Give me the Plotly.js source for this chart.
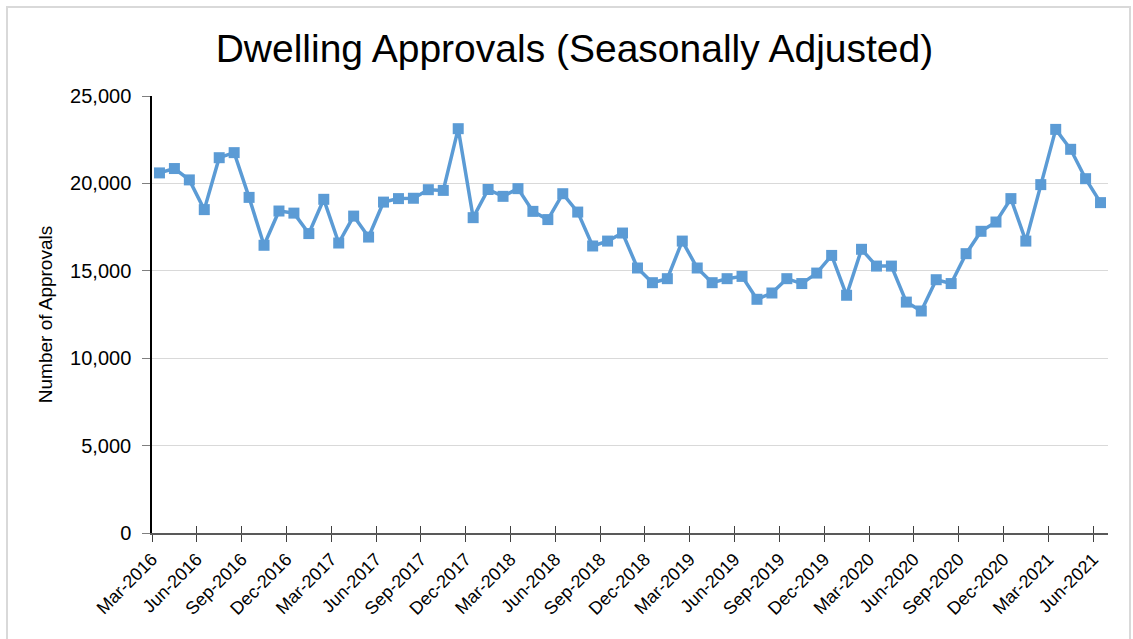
<!DOCTYPE html>
<html>
<head>
<meta charset="utf-8">
<script src="https://cdn.plot.ly/plotly-3.0.1.min.js"></script>
<style>
  html, body { margin: 0; padding: 0; background: #ffffff; }
  #wrap { position: relative; width: 1133px; height: 639px; overflow: hidden; }
  #chart { position: absolute; left: 0; top: 0; width: 1133px; height: 639px; }
  #frame { position: absolute; left: 6px; top: 6px; width: 1121px; height: 660px;
           border: 2px solid #d9d9d9; pointer-events: none; }
</style>
</head>
<body>
<div id="wrap">
  <div id="chart"></div>
  <div id="frame"></div>
</div>
<script>
// Months (categories), Mar-2016 .. Jun-2021
const months = [
  "Mar-2016","Apr-2016","May-2016","Jun-2016","Jul-2016","Aug-2016","Sep-2016","Oct-2016","Nov-2016","Dec-2016",
  "Jan-2017","Feb-2017","Mar-2017","Apr-2017","May-2017","Jun-2017","Jul-2017","Aug-2017","Sep-2017","Oct-2017","Nov-2017","Dec-2017",
  "Jan-2018","Feb-2018","Mar-2018","Apr-2018","May-2018","Jun-2018","Jul-2018","Aug-2018","Sep-2018","Oct-2018","Nov-2018","Dec-2018",
  "Jan-2019","Feb-2019","Mar-2019","Apr-2019","May-2019","Jun-2019","Jul-2019","Aug-2019","Sep-2019","Oct-2019","Nov-2019","Dec-2019",
  "Jan-2020","Feb-2020","Mar-2020","Apr-2020","May-2020","Jun-2020","Jul-2020","Aug-2020","Sep-2020","Oct-2020","Nov-2020","Dec-2020",
  "Jan-2021","Feb-2021","Mar-2021","Apr-2021","May-2021","Jun-2021"
];

// Dwelling approvals, seasonally adjusted
const approvals = [
  20600, 20850, 20200, 18500, 21470, 21760, 19200, 16460, 18420, 18300,
  17130, 19090, 16590, 18130, 16930, 18930, 19130, 19150, 19640, 19600, 23130, 18040,
  19650, 19260, 19700, 18400, 17930, 19410, 18360, 16420, 16700, 17160, 15160, 14320,
  14550, 16700, 15160, 14320, 14550, 14680, 13370, 13730, 14550, 14270, 14870, 15880,
  13600, 16230, 15270, 15270, 13210, 12700, 14490, 14270, 15980, 17260, 17790, 19130,
  16700, 19930, 23090, 21950, 20270, 18900
];

// Tick labels shown every third month
const tickLabels = [
  "Mar-2016","Jun-2016","Sep-2016","Dec-2016","Mar-2017","Jun-2017","Sep-2017","Dec-2017",
  "Mar-2018","Jun-2018","Sep-2018","Dec-2018","Mar-2019","Jun-2019","Sep-2019","Dec-2019",
  "Mar-2020","Jun-2020","Sep-2020","Dec-2020","Mar-2021","Jun-2021"
];

// Category slot positions: each month occupies one slot, point at slot centre,
// tick marks at slot boundaries (Excel-style "between tick marks").
const xPos = months.map((m, i) => i + 0.5);
const tickPos = tickLabels.map(l => months.indexOf(l));

const FONT = '"Liberation Sans", Arial, sans-serif';
const blue = '#5b9bd5';

const trace = {
  x: xPos,
  y: approvals,
  text: months,
  type: 'scatter',
  mode: 'lines+markers',
  line: { color: blue, width: 3.5 },
  marker: { symbol: 'square', size: 11, color: blue },
  hovertemplate: '%{text}: %{y:,}<extra></extra>',
  showlegend: false
};

const layout = {
  width: 1133,
  height: 639,
  paper_bgcolor: '#ffffff',
  plot_bgcolor: '#ffffff',
  margin: { l: 152, r: 25, t: 96, b: 106 },
  font: { family: FONT, color: '#000000', size: 18 },
  title: {
    text: 'Dwelling Approvals (Seasonally Adjusted)',
    font: { family: FONT, size: 39, color: '#000000' },
    x: 0.507, xanchor: 'center', xref: 'container',
    y: 0.925, yanchor: 'middle', yref: 'container'
  },
  xaxis: {
    type: 'linear',
    range: [0, months.length],
    tickmode: 'array',
    tickvals: tickPos,
    ticktext: tickLabels,
    tickangle: -45,
    ticks: 'outside',
    ticklen: 7,
    tickwidth: 1,
    tickcolor: '#404040',
    tickfont: { family: FONT, size: 18, color: '#000000' },
    showgrid: false,
    zeroline: false,
    showline: true,
    linecolor: '#595959',
    linewidth: 1.5,
    fixedrange: true
  },
  xaxis2: {
    type: 'linear',
    overlaying: 'x',
    matches: 'x',
    range: [0, months.length],
    tickmode: 'array',
    tickvals: tickPos,
    ticktext: tickLabels,
    ticks: 'inside',
    ticklen: 7,
    tickwidth: 1,
    tickcolor: '#404040',
    showticklabels: false,
    showgrid: false,
    zeroline: false,
    showline: false,
    side: 'bottom'
  },
  yaxis: {
    range: [0, 25000],
    tickmode: 'linear',
    tick0: 0,
    dtick: 5000,
    tickformat: ',d',
    ticks: 'outside',
    ticklen: 8,
    tickcolor: '#7f7f7f',
    ticklabelstandoff: 7,
    tickfont: { family: FONT, size: 20, color: '#000000' },
    showgrid: true,
    gridcolor: '#d9d9d9',
    gridwidth: 1,
    zeroline: false,
    showline: true,
    linecolor: '#000000',
    linewidth: 1.5,
    title: {
      text: 'Number of Approvals',
      font: { family: FONT, size: 19, color: '#000000' },
      standoff: 12
    },
    fixedrange: true
  }
};

const trace2 = { x: [], y: [], xaxis: 'x2', yaxis: 'y', showlegend: false, hoverinfo: 'skip' };

Plotly.newPlot('chart', [trace, trace2], layout, { displayModeBar: false, responsive: false });
</script>
</body>
</html>
